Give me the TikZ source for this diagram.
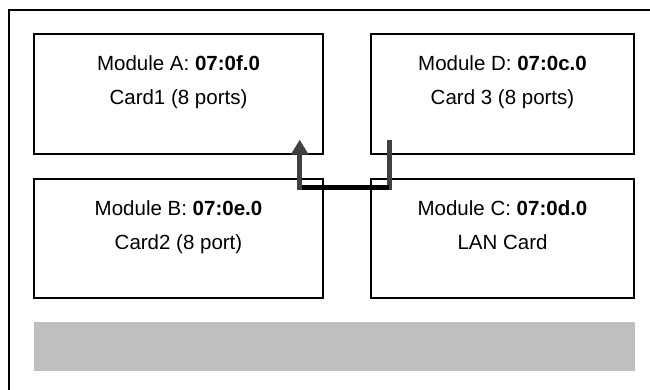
\documentclass[tikz,border=0pt]{standalone}
\usepackage{fontspec}
\setmainfont{Liberation Sans}
\usetikzlibrary{arrows.meta,calc}
\tikzset{
  modbox/.style={draw=black, line width=1.4pt, minimum width=289pt, minimum height=120pt, inner sep=0pt},
  modtext/.style={anchor=north, inner sep=0pt, align=center, font=\fontsize{20.5}{34}\selectfont},
  pipe/.style={line width=5pt, draw=black!75}
}
\begin{document}
\begin{tikzpicture}[x=1pt, y=-1pt, line join=miter, line cap=butt]
			\def\ybar{346.5} % Mitte des grauen Balkens
			\useasboundingbox (0,0) rectangle (650,389);
			\draw[line width=1.5pt] (9,10) rectangle (660,400);
			\node[modbox] (modA) at (178.5,94) {};
			\node[modbox, minimum width=263pt] (modD) at (502.5,94) {};
			\node[modbox, minimum height=119pt] (modB) at (178.5,238.5) {};
			\node[modbox, minimum width=263pt, minimum height=119pt] (modC) at (502.5,238.5) {};
			\node[modtext] (txtA) at ($(modA.north)+(0,22)$) {Module A: \textbf{07:0f.0}\\Card1 (8 ports)};
			\node[modtext] (txtD) at ($(modD.north)+(0,22)$) {Module D: \textbf{07:0c.0}\\Card 3 (8 ports)};
			\node[modtext] (txtB) at ($(modB.north)+(0,22)$) {Module B: \textbf{07:0e.0}\\Card2 (8 port)};
			\node[modtext] (txtC) at ($(modC.north)+(0,22)$) {Module C: \textbf{07:0d.0}\\LAN Card};
			\node[fill=black!25, minimum width=601pt, minimum height=49pt, inner sep=0pt] (bar) at (334.5,\ybar) {};
			% Verbindung D -> A
			\coordinate (dTop) at ($(modD.south west)+(19,-15)$);
			\coordinate (dLow) at ($(modD.south west)+(19,33)$);
			\coordinate (aLow) at ($(modA.south east)+(-24,33)$);
			\coordinate (aTop) at ($(modA.south east)+(-24,-15)$);
			\draw[pipe] (dTop) -- ($(dLow)+(0,2.5)$);
			\draw[line width=5pt, black] (dLow) -- (aLow);
			\draw[pipe, -{Triangle[width=17pt,length=15pt]}] ($(aLow)+(0,2.5)$) -- (aTop);
		\end{tikzpicture}
\end{document}
